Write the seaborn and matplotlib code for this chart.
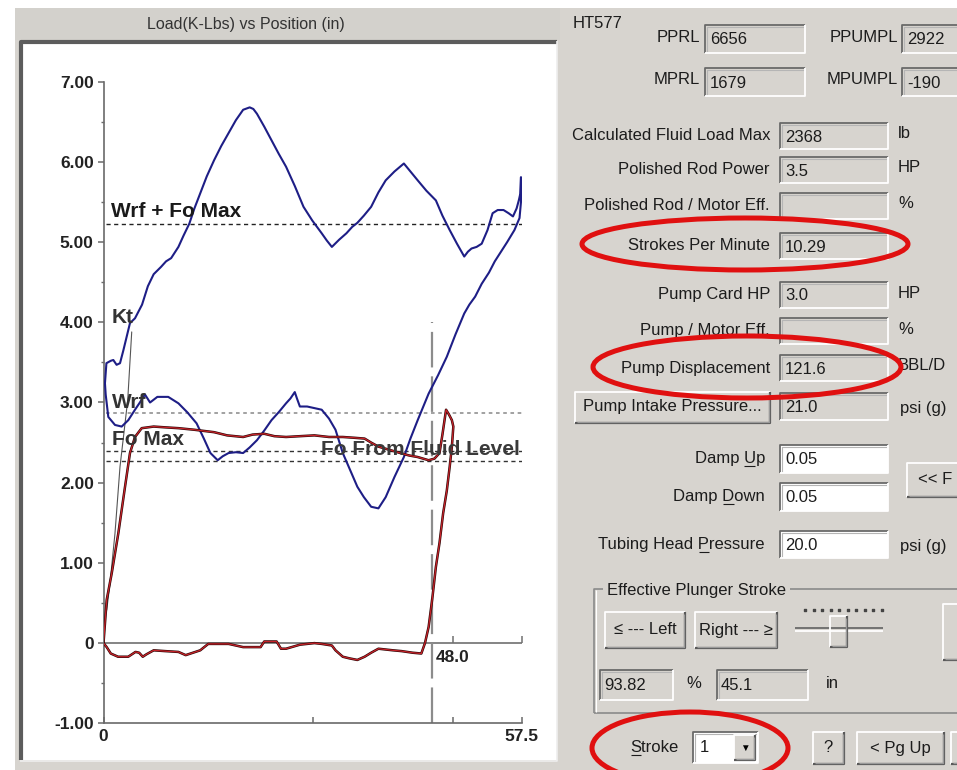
import matplotlib
matplotlib.use("Agg")
import matplotlib.pyplot as plt
from matplotlib.patches import Rectangle, Ellipse
import pandas as pd
import seaborn as sns

# ------------------------------------------------------------------ data
up_x = [0.2, 0.4, 1.0, 1.35, 1.8, 2.27, 2.73, 3.19, 3.64, 4.33,
        5.3, 6.1, 6.9, 7.9, 8.6, 9.3, 10.3, 11.0, 11.8, 12.5,
        13.3, 14.2, 15.2, 16.2, 17.2, 18.2, 19.2, 20.1, 20.6, 21.1,
        22.1, 23.1, 24.1, 25.1, 26.3, 27.5, 28.7, 30.0, 30.7, 31.4,
        32.4, 33.4, 34.2, 34.9, 35.8, 36.8, 37.8, 38.8, 40.0, 41.3,
        42.2, 43.2, 44.4, 45.7, 46.6, 47.6, 48.6, 49.6, 50.1, 50.6,
        51.3, 52.0, 52.8, 53.5, 54.2, 55.0, 55.7, 56.3, 56.8, 57.1,
        57.3, 57.4, 57.4]
up_y = [3.24, 3.49, 3.52, 3.53, 3.47, 3.49, 3.65, 3.82, 3.99, 4.05,
        4.22, 4.45, 4.60, 4.69, 4.76, 4.80, 4.94, 5.08, 5.23, 5.42,
        5.61, 5.82, 6.02, 6.20, 6.36, 6.52, 6.65, 6.68, 6.66, 6.60,
        6.44, 6.27, 6.10, 5.94, 5.70, 5.44, 5.27, 5.11, 5.02, 4.94,
        5.03, 5.11, 5.19, 5.24, 5.33, 5.44, 5.62, 5.77, 5.88, 5.98,
        5.88, 5.77, 5.64, 5.52, 5.33, 5.15, 4.98, 4.82, 4.88, 4.92,
        4.94, 4.98, 5.15, 5.36, 5.40, 5.40, 5.36, 5.32, 5.42, 5.52,
        5.60, 5.81, 5.50]
down_x = [57.2, 56.5, 55.5, 54.5, 53.8, 53.0, 52.0, 51.1, 50.3, 49.6,
          48.4, 47.2, 46.0, 44.7, 43.2, 42.2, 41.3, 40.0, 38.8, 37.8,
          36.8, 35.8, 34.9, 33.9, 32.9, 31.9, 31.0, 30.0, 29.0, 28.0,
          27.0, 26.6, 26.3, 25.7, 25.1, 24.1, 23.1, 22.1, 21.1, 20.1,
          19.2, 18.2, 17.2, 16.4, 15.7, 14.7, 13.8, 12.8, 11.5, 10.3,
          8.9, 7.4, 6.4, 5.7, 5.0, 4.33, 3.41, 2.5, 1.58, 0.66,
          0.44, 0.3, 0.2]
down_y = [5.30, 5.15, 5.00, 4.86, 4.76, 4.62, 4.48, 4.32, 4.22, 4.11,
          3.85, 3.57, 3.34, 3.11, 2.78, 2.55, 2.32, 2.07, 1.82, 1.68,
          1.70, 1.82, 1.95, 2.16, 2.37, 2.66, 2.80, 2.91, 2.93, 2.95,
          2.95, 3.05, 3.13, 3.05, 2.99, 2.88, 2.78, 2.65, 2.53, 2.44,
          2.37, 2.38, 2.37, 2.33, 2.28, 2.37, 2.55, 2.74, 2.88, 2.99,
          3.07, 3.07, 3.00, 3.10, 3.00, 2.91, 2.78, 2.70, 2.72, 2.82,
          2.99, 3.10, 3.24]

pump_x = [0.0, 0.44, 1.13, 2.04, 2.96, 3.64, 4.33, 5.25, 6.9, 8.5,
          10.3, 12.5, 15.2, 17.0, 19.2, 20.5, 22.1, 23.5, 25.1, 27.0,
          29.0, 31.0, 32.9, 34.5, 35.9, 36.8, 37.8, 39.3, 40.8, 42.0,
          43.2, 44.7, 45.5, 46.2, 46.6, 47.1, 47.5, 47.9, 48.1, 47.9,
          47.6, 47.2, 46.7, 46.2, 45.7, 45.2, 44.7, 44.2, 43.7, 42.5,
          41.0, 39.8, 37.8, 36.8, 35.9, 34.9, 33.8, 32.9, 31.9, 31.4,
          30.0, 29.0, 27.0, 25.1, 24.4, 23.8, 22.1, 21.6, 19.2, 17.2,
          14.4, 13.3, 12.3, 11.3, 10.3, 8.5, 6.9, 5.9, 5.4, 4.9,
          4.4, 3.9, 3.4, 2.0, 1.0, 0.44, 0.0]
pump_y = [0.0, 0.54, 0.87, 1.37, 1.95, 2.37, 2.57, 2.68, 2.70, 2.69,
          2.68, 2.66, 2.63, 2.59, 2.57, 2.60, 2.61, 2.58, 2.57, 2.58,
          2.59, 2.57, 2.57, 2.56, 2.55, 2.50, 2.45, 2.41, 2.37, 2.34,
          2.32, 2.28, 2.30, 2.37, 2.60, 2.91, 2.85, 2.78, 2.70, 2.45,
          2.20, 1.90, 1.62, 1.25, 0.95, 0.55, 0.20, 0.0, -0.13, -0.12,
          -0.10, -0.09, -0.07, -0.12, -0.17, -0.21, -0.19, -0.17, -0.09, -0.03,
          -0.01, 0.0, -0.02, -0.07, -0.07, 0.02, 0.02, -0.05, -0.05, -0.01,
          -0.01, -0.09, -0.12, -0.15, -0.11, -0.10, -0.09, -0.14, -0.17, -0.12,
          -0.11, -0.14, -0.17, -0.17, -0.13, -0.05, 0.0]

kt_x = [0.44, 0.9, 1.58, 2.27, 3.33, 3.88]
kt_y = [0.41, 0.75, 1.37, 2.20, 3.03, 3.88]

wrf_fo_max_level = 5.22
wrf_level = 2.87
fo_max_level = 2.40
fo_fluid_level = 2.27
effective_stroke_in = 45.1

y_ticks = [-1, 0, 1, 2, 3, 4, 5, 6, 7]
y_tick_labels = ["-1.00", "0", "1.00", "2.00", "3.00", "4.00", "5.00", "6.00", "7.00"]
y_minor_ticks = [-0.5, 0.5, 1.5, 2.5, 3.5, 4.5, 5.5, 6.5]
x_ticks = [0, 28.75, 48.0, 57.5]
x_tick_labels = ["0", "", "", "57.5"]
zero_line_ticks = [48.0, 57.5]
zero_line_label = "48.0"
chart_title = "Load(K-Lbs) vs Position (in)"

well_name = "HT577"
top_labels = ["PPRL", "PPUMPL", "MPRL", "MPUMPL"]
top_values = ["6656", "2922", "1679", "-190"]
field_labels = ["Calculated Fluid Load Max", "Polished Rod Power", "Polished Rod / Motor Eff.",
                "Strokes Per Minute", "Pump Card HP", "Pump / Motor Eff.", "Pump Displacement"]
field_values = ["2368", "3.5", "", "10.29", "3.0", "", "121.6"]
field_units = ["lb", "HP", "%", "", "HP", "%", "BBL/D"]
intake_value, intake_unit = "21.0", "psi (g)"
damp_up, damp_down, tubing_head = "0.05", "0.05", "20.0"
eff_pct, eff_in = "93.82", "45.1"
stroke_no = "1"

# ------------------------------------------------------------------ style
sns.set_theme(style="white")
plt.rcParams["font.family"] = ["Liberation Sans", "DejaVu Sans"]

PANEL = "#D7D4CF"
TXT = "#1c1c1c"
FS = 12

fig = plt.figure(figsize=(9.57, 7.70), dpi=100)
bg = fig.add_axes([0, 0, 1, 1])
bg.set_xlim(0, 957)
bg.set_ylim(770, 0)
bg.axis("off")
renderer = fig.canvas.get_renderer()


def rect(x0, y0, x1, y1, fc, z=1):
    bg.add_patch(Rectangle((x0, y0), x1 - x0, y1 - y0, facecolor=fc, edgecolor="none", zorder=z))


def pline(xs, ys, c, lw, z=2):
    bg.plot(xs, ys, color=c, lw=lw, solid_capstyle="butt", zorder=z)


def sunken(x0, y0, x1, y1, fc=PANEL):
    rect(x0, y0, x1, y1, fc)
    pline([x0, x0, x1], [y1, y0, y0], "#6a6a6a", 1.3)
    pline([x0 + 1.5, x0 + 1.5, x1 - 1.5], [y1 - 1.5, y0 + 1.5, y0 + 1.5], "#b5b5b5", 0.8)
    pline([x0, x1, x1], [y1, y1, y0], "#ffffff", 1.3)


def raised(x0, y0, x1, y1):
    rect(x0, y0, x1, y1, PANEL)
    pline([x0, x0, x1], [y1, y0, y0], "#ffffff", 1.3)
    pline([x0, x1, x1], [y1, y1, y0], "#5a5a5a", 1.6)
    pline([x0 + 1.5, x1 - 1.5, x1 - 1.5], [y1 - 1.5, y1 - 1.5, y0 + 1.5], "#9a9a9a", 0.9)


def label(x, y, s, ha="left", fs=FS, c=TXT, z=5):
    return bg.text(x, y, s, ha=ha, va="center", fontsize=fs, color=c, zorder=z)


def text_width(s, fs=FS):
    t = bg.text(0, 0, s, fontsize=fs)
    w = t.get_window_extent(renderer).width
    t.remove()
    return w


def underlined_label(x, y, s, idx, ha="left"):
    label(x, y, s, ha=ha)
    full = text_width(s)
    left = x - full if ha == "right" else x
    a = left + text_width(s[:idx]) if idx > 0 else left
    b = left + text_width(s[:idx + 1])
    pline([a + 0.5, b - 0.5], [y + 7, y + 7], TXT, 0.8, z=5)


# backgrounds
rect(0, 0, 957, 770, "white", z=0)
rect(15, 8, 957, 770, PANEL, z=0.5)
rect(15, 8, 560, 40, "#D3D1CC", z=0.6)
rect(20, 41, 557, 760, "white", z=0.7)
pline([20.5, 20.5, 557], [760, 41.5, 41.5], "#5c5c5c", 3.0)
pline([20, 557, 557], [760.5, 760.5, 41], "#eeeeee", 1.2)
bg.text(246, 24, chart_title, ha="center", va="center", fontsize=11.5, color="#333333", zorder=5)

# ---- right panel
label(573, 24, well_name)
for i, (lab, val) in enumerate(zip(top_labels, top_values)):
    row, col = divmod(i, 2)
    yc = 39 if row == 0 else 82
    xr = 700 if col == 0 else 898
    bx0, bx1 = (705, 805) if col == 0 else (902, 962)
    label(xr, yc - 2, lab, ha="right")
    sunken(bx0, yc - 14, bx1, yc + 14)
    label(bx0 + 5, yc + 1, val)

field_rows = [136, 170, 206, 246, 295, 331, 368]
for lab, val, unit, yc in zip(field_labels, field_values, field_units, field_rows):
    label(770, yc, lab, ha="right")
    sunken(780, yc - 13, 888, yc + 13)
    label(785, yc + 1, val)
    if unit:
        label(898, yc - 2, unit)

raised(575, 392, 770, 423)
label(672, 407, "Pump Intake Pressure...", ha="center")
sunken(780, 393, 888, 420)
label(785, 407, intake_value)
label(900, 408, intake_unit)

for lab, val, yc, ui in [("Damp Up", damp_up, 459, 5), ("Damp Down", damp_down, 497, 5)]:
    underlined_label(765, yc, lab, ui, ha="right")
    sunken(780, yc - 14, 888, yc + 14, fc="white")
    label(785, yc + 1, val)
raised(907, 463, 966, 497)
label(918, 480, "<< F")

underlined_label(765, 545, "Tubing Head Pressure", 12, ha="right")
sunken(780, 531, 888, 558, fc="white")
label(785, 545, tubing_head)
label(900, 546, "psi (g)")

# group box
pline([594, 594, 966], [713, 589, 589], "#8a8a8a", 1.2)
pline([594, 966], [713, 713], "#8a8a8a", 1.2)
pline([595.5, 595.5], [712, 590], "#ffffff", 0.8)
rect(603, 580, 790, 598, PANEL, z=3)
label(607, 590, "Effective Plunger Stroke")
raised(605, 612, 685, 648)
label(645, 630, "\u2264 --- Left", ha="center")
raised(695, 612, 777, 648)
label(736, 630, "Right --- \u2265", ha="center")
bg.scatter([805 + 8.5 * k for k in range(10)], [610] * 10, s=2.5, c="#444444", marker="s", zorder=4)
pline([795, 883], [628, 628], "#6a6a6a", 1.3)
pline([795, 883], [631, 631], "#ffffff", 1.3)
raised(830, 616, 847, 647)
raised(943, 604, 966, 660)
sunken(600, 670, 673, 700)
label(604, 686, eff_pct)
label(686, 684, "%")
sunken(717, 670, 808, 700)
label(721, 686, eff_in)
label(826, 684, "in")

# bottom row
underlined_label(630, 748, "Stroke", 0)
sunken(693, 732, 758, 763, fc="white")
label(700, 748, stroke_no)
raised(734, 735, 755, 760)
bg.text(744.5, 748, "\u25BC", ha="center", va="center", fontsize=7, color="black", zorder=5)
raised(813, 732, 844, 764)
label(828, 748, "?", ha="center")
raised(857, 732, 944, 764)
label(900, 748, "< Pg Up", ha="center")
raised(951, 732, 966, 764)

# red hand-drawn ellipses
for (cx, cy, w, h) in [(745, 244, 326, 52), (747, 367, 308, 62), (690, 748, 196, 72)]:
    bg.add_patch(Ellipse((cx, cy), w, h, fill=False, ec="#e01010", lw=3.6, zorder=8))

# ------------------------------------------------------------------ chart
X0, X1, Y7, YM1 = 103.5, 521.7, 81.7, 723.3
ax = fig.add_axes([X0 / 957, 1 - YM1 / 770, (X1 - X0) / 957, (YM1 - Y7) / 770])
ax.patch.set_alpha(0)

surface = pd.DataFrame({"pos": up_x + down_x, "load": up_y + down_y})
pump = pd.DataFrame({"pos": pump_x, "load": pump_y})

BLUE = "#1e1e86"
sns.lineplot(data=surface, x="pos", y="load", sort=False, estimator=None,
             color=BLUE, lw=1.5, ax=ax, zorder=4)
sns.lineplot(x=kt_x, y=kt_y, sort=False, estimator=None, color="#555555", lw=0.8, ax=ax, zorder=3)
sns.lineplot(data=pump, x="pos", y="load", sort=False, estimator=None,
             color="#2a0505", lw=1.8, ax=ax, zorder=5)
sns.lineplot(data=pump, x="pos", y="load", sort=False, estimator=None,
             color="#c8232a", lw=0.9, ax=ax, zorder=6)

ax.hlines(wrf_fo_max_level, 0.4, 57.5, colors="#222222", lw=1.0, linestyles=(0, (3, 2.5)), zorder=2)
ax.hlines(wrf_level, 0.4, 57.5, colors="#9a9a9a", lw=1.3, linestyles=(0, (2, 2)), zorder=2)
ax.hlines(fo_max_level, 0.4, 57.5, colors="#333333", lw=1.0, linestyles=(0, (3, 2.5)), zorder=2)
ax.hlines(fo_fluid_level, 0.4, 57.5, colors="#333333", lw=1.0, linestyles=(0, (3, 2.5)), zorder=2)
ax.vlines(effective_stroke_in, -1, 4.0, colors="#8c8c8c", lw=1.6, linestyles=(0, (16, 4)), zorder=2)
ax.axhline(0, color="#707070", lw=1.2, zorder=1)
ax.plot(zero_line_ticks, [0] * len(zero_line_ticks), ls="none", marker=2, ms=5,
        mew=1.1, color="#707070", zorder=1)
ax.text(48.0, -0.08, zero_line_label, ha="center", va="top", fontsize=12.5,
        fontweight="bold", color="#222222")

lab_kw = dict(fontsize=15, fontweight="bold", va="baseline", zorder=7)
ax.text(1.0, 5.31, "Wrf + Fo Max", color="#1a1a1a", **lab_kw)
ax.text(1.15, 3.99, "Kt", color="#333333", **lab_kw)
ax.text(1.15, 2.93, "Wrf", color="#333333", **lab_kw)
ax.text(1.15, 2.47, "Fo Max", color="#333333", **lab_kw)
ax.text(57.3, 2.34, "Fo From Fluid Level", ha="right", color="#3a3a3a", **lab_kw)

ax.set_xlim(0, 57.5)
ax.set_ylim(-1, 7)
ax.set_xlabel("")
ax.set_ylabel("")
for s in ["top", "right"]:
    ax.spines[s].set_visible(False)
for s in ["left", "bottom"]:
    ax.spines[s].set_color("#6a6a6a")
    ax.spines[s].set_linewidth(1.2)
ax.set_yticks(y_ticks, labels=y_tick_labels, fontweight="bold", fontsize=12.5, color="#222222")
ax.set_yticks(y_minor_ticks, minor=True)
ax.set_xticks(x_ticks, labels=x_tick_labels, fontweight="bold", fontsize=12.5, color="#222222")
ax.tick_params(axis="y", which="major", direction="out", length=4, width=1.1, color="#6a6a6a", pad=3, left=True)
ax.tick_params(axis="y", which="minor", direction="out", length=2, width=1.0, color="#6a6a6a", left=True)
ax.tick_params(axis="x", which="major", direction="in", length=4, width=1.1, color="#6a6a6a", pad=4, bottom=True)
ax.grid(False)

fig.savefig("out.png", dpi=100)
